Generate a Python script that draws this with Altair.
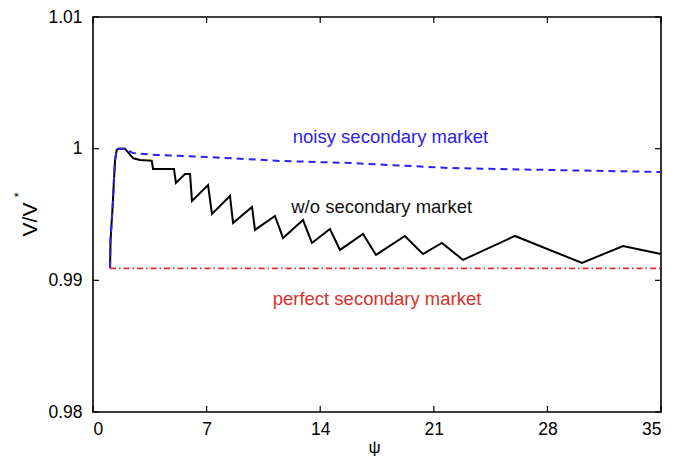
import altair as alt
import pandas as pd

# Relative value V/V* against psi, three market settings
black_x = [1.05, 1.08, 1.21, 1.29, 1.36, 1.46, 1.56, 1.97, 2.18, 2.48, 2.90, 3.62,
           3.70, 4.99, 5.11, 5.67, 5.98, 6.10, 7.09, 7.33, 8.44, 8.63, 9.80, 9.98,
           11.21, 11.71, 12.94, 13.49, 14.60, 15.22, 16.64, 17.44, 19.22, 20.33,
           21.50, 22.80, 26.00, 30.13, 32.66, 35.0]
black_y = [0.99094, 0.99307, 0.99560, 0.99762, 0.99914, 0.99990, 1.00000, 1.00000,
           0.99970, 0.99927, 0.99914, 0.99909, 0.99846, 0.99846, 0.99740, 0.99808,
           0.99808, 0.99603, 0.99724, 0.99504, 0.99641, 0.99436, 0.99557, 0.99383,
           0.99489, 0.99322, 0.99458, 0.99284, 0.99390, 0.99231, 0.99352, 0.99193,
           0.99337, 0.99200, 0.99284, 0.99155, 0.99337, 0.99132, 0.99261, 0.99200]

blue_x = [1.05, 1.08, 1.21, 1.29, 1.36, 1.46, 1.56, 2.00, 2.46, 3.94, 7.02, 11.52,
          15.83, 22.0, 28.16, 35.0]
blue_y = [0.99094, 0.99307, 0.99560, 0.99762, 0.99914, 0.99990, 1.00000, 1.00000,
          0.99967, 0.99952, 0.99937, 0.99907, 0.99891, 0.99853, 0.99838, 0.99823]

red_x = [1.05, 35.0]
red_y = [0.99091, 0.99091]

x_ticks = [0, 7, 14, 21, 28, 35]
y_ticks = [0.98, 0.99, 1.0, 1.01]

labels = ["noisy secondary market", "w/o secondary market", "perfect secondary market"]
label_x = [18.33, 17.79, 17.50]
label_y = [1.00041, 0.99514, 0.98813]
label_colors = ["#2b22ee", "#111111", "#d9302a"]

FONT = "Liberation Sans"
W, H = 568, 395

x_scale = alt.Scale(domain=[0, 35], nice=False, zero=False)
y_scale = alt.Scale(domain=[0.98, 1.01], nice=False, zero=False)

x_axis = alt.Axis(values=x_ticks, title="ψ", grid=False, domain=False, ticks=False,
                  labelFontSize=17.5, labelFont=FONT, labelColor="black", labelPadding=8,
                  titleFont=FONT, titleFontSize=17, titleFontWeight="normal",
                  titleColor="black", titleX=281, titleY=40, titleBaseline="alphabetic",
                  titleAlign="center")
y_axis = alt.Axis(values=y_ticks, title="V/V", grid=False, domain=False, ticks=False,
                  labelFontSize=17.5, labelFont=FONT, labelColor="black", labelPadding=11,
                  labelExpr="datum.value == 1 ? '1' : format(datum.value, '.2f')",
                  titleFont=FONT, titleFontSize=21, titleFontWeight="normal",
                  titleColor="black", titleAngle=270, titleX=-56.3, titleY=202,
                  titleBaseline="alphabetic", titleAlign="center")


def series(xs, ys):
    return pd.DataFrame({"psi": xs, "v": ys, "i": range(len(xs))})


enc = dict(
    x=alt.X("psi:Q", scale=x_scale, axis=x_axis),
    y=alt.Y("v:Q", scale=y_scale, axis=y_axis),
    order="i:Q",
)

red = alt.Chart(series(red_x, red_y)).mark_line(
    color="#d9302a", strokeWidth=1.8, strokeDash=[6, 3, 1.5, 3]).encode(**enc)
black = alt.Chart(series(black_x, black_y)).mark_line(
    color="black", strokeWidth=2, strokeJoin="miter").encode(**enc)
blue = alt.Chart(series(blue_x, blue_y)).mark_line(
    color="#2b22ee", strokeWidth=2, strokeDash=[7, 5]).encode(**enc)

ann = alt.Chart(pd.DataFrame({"t": labels, "x": label_x, "y": label_y, "c": label_colors})).mark_text(
    font=FONT, fontSize=18.5, align="center", baseline="alphabetic").encode(
    x=alt.X("x:Q", scale=x_scale),
    y=alt.Y("y:Q", scale=y_scale),
    text="t:N",
    color=alt.Color("c:N", scale=None),
)

# inward-pointing tick marks on all four sides of the frame
tk = 6
xt = pd.DataFrame({"psi": x_ticks})
yt = pd.DataFrame({"v": y_ticks})
ticks_bottom = alt.Chart(xt).mark_rule(color="black", strokeWidth=1.2).encode(
    x=alt.X("psi:Q", scale=x_scale), y=alt.value(H), y2=alt.value(H - tk))
ticks_top = alt.Chart(xt).mark_rule(color="black", strokeWidth=1.2).encode(
    x=alt.X("psi:Q", scale=x_scale), y=alt.value(0), y2=alt.value(tk))
ticks_left = alt.Chart(yt).mark_rule(color="black", strokeWidth=1.2).encode(
    y=alt.Y("v:Q", scale=y_scale), x=alt.value(0), x2=alt.value(tk))
ticks_right = alt.Chart(yt).mark_rule(color="black", strokeWidth=1.2).encode(
    y=alt.Y("v:Q", scale=y_scale), x=alt.value(W), x2=alt.value(W - tk))

# superscript star of the y title
star = alt.Chart(pd.DataFrame({"s": ["*"]})).mark_text(
    font=FONT, fontSize=12, angle=270, align="center", baseline="alphabetic",
    color="black").encode(text="s:N", x=alt.value(-70.5), y=alt.value(178))

chart = alt.layer(
    red, black, blue, ann, ticks_bottom, ticks_top, ticks_left, ticks_right, star
).properties(
    width=W, height=H,
    autosize=alt.AutoSizeParams(type="none"),
    padding={"left": 93, "top": 17, "right": 22, "bottom": 50},
    background="white",
).configure_view(
    stroke="black", strokeWidth=1.6
)

chart.save("out.html", embed_options={"renderer": "svg", "actions": False})
